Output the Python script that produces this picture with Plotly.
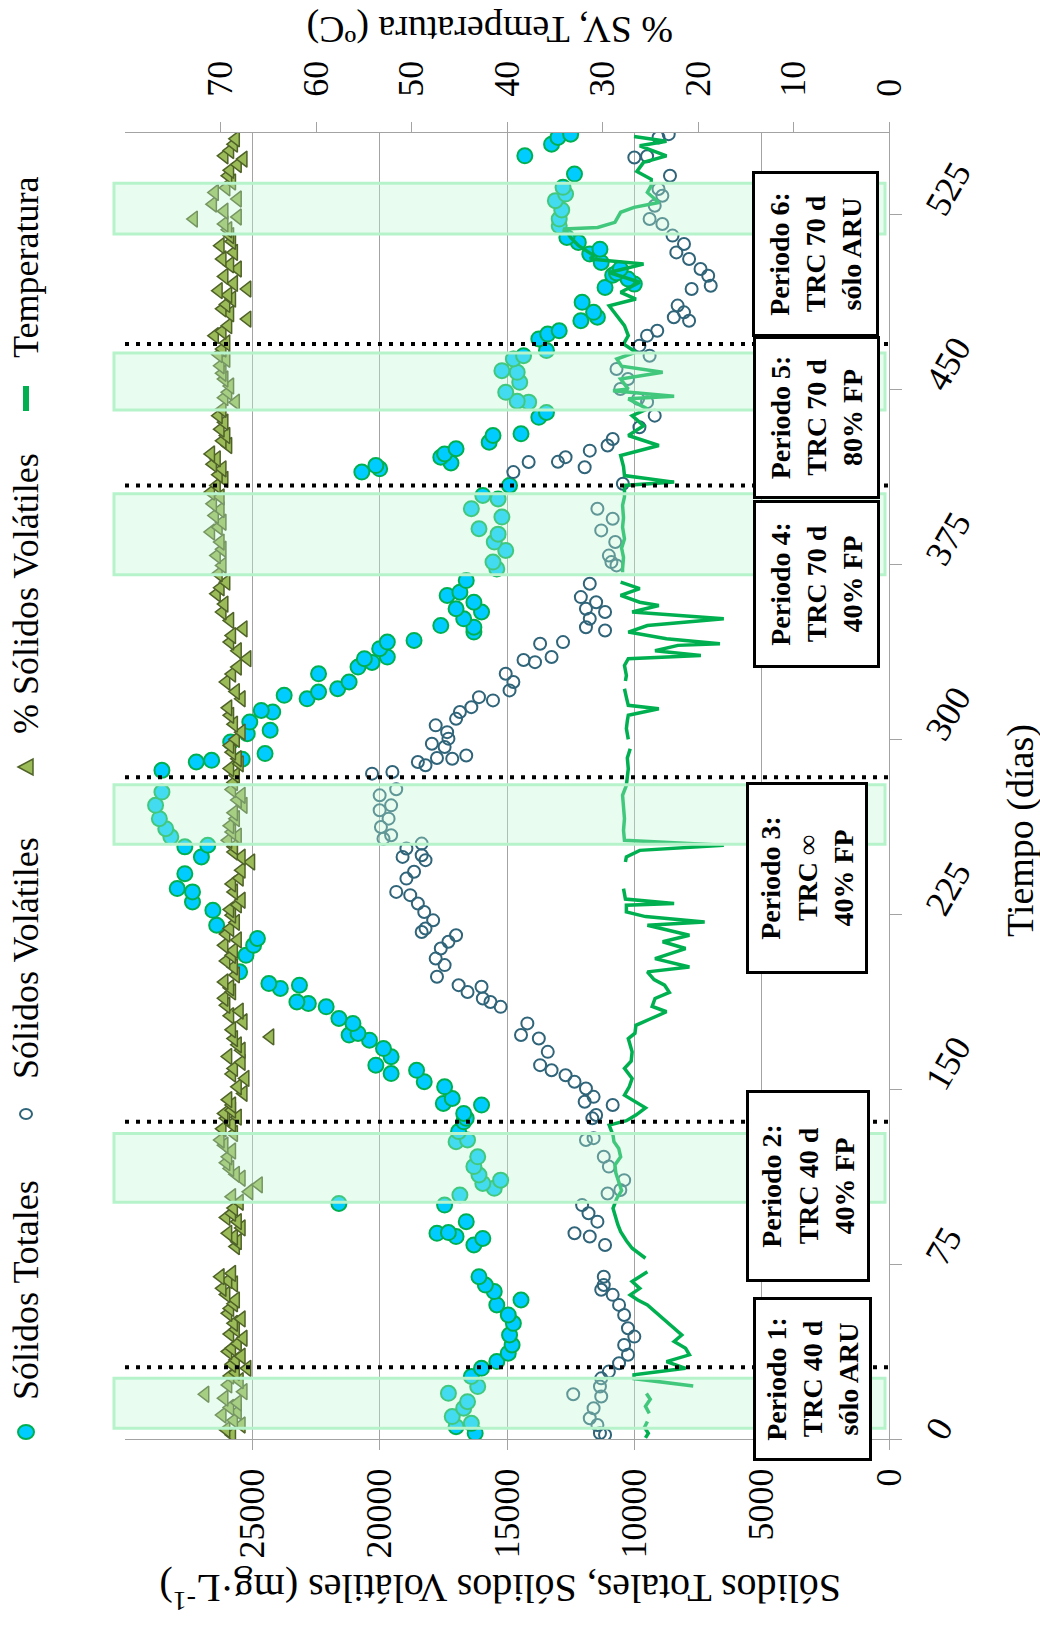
import plotly.graph_objects as go

# ---------------- data ----------------
# Sólidos Totales (mg/L) vs time (days)
st_t = [2.5, 5.3, 6.7, 9.6, 13.2, 16, 19.6, 22.5, 26.8, 30.3, 33.2, 36.8, 40.3, 44.6, 49.6, 53.2, 57.5, 59.6,
        63.2, 66, 69.6, 83.2, 86, 86.8, 88.2, 88.5, 93.2, 100.3, 101, 104.6, 107.5, 109.6, 111, 113.2, 116.8,
        121, 127.5, 128.2, 131.8, 136, 137.5,
        139.6, 143.2, 143.9, 146, 151, 153.2, 156.7, 158.1, 160.3, 163.9, 167.4, 171, 173.2, 173.9, 178.2,
        180.3, 185.3, 186.7, 187.4, 193.2, 194.6, 195.3, 200.3, 207.4, 211.7, 214.6, 220.3, 226.7, 230.3,
        234.6, 236, 242.4, 249.6, 253.9, 254.6, 258.2, 261.7, 266, 271.7, 277.4,
        286.7, 290.3, 291, 291.5, 293.9, 298.9, 302.4, 303.9, 307.4, 311.7, 312.4, 317.4, 318.9, 320.3,
        321.7, 324.6, 328.1, 331, 333, 334.6, 335.3, 338.9, 341.7, 342.4, 346, 348.1, 348.8, 351.7, 354.6,
        356, 358.8, 361.7, 363.1, 368.1, 373.1, 376, 381, 384.6, 388, 390.3, 395.3, 398.9, 403.1, 404.6,
        408.9, 414.6, 416, 417.4, 418.5, 421,
        422.4, 424.6, 427.4, 430.3, 431, 438.1, 440.2, 444.6, 445, 448.8, 453.1, 457.4, 458.1, 463.1, 464.5,
        466.7, 471.7, 473.8, 475.2, 479.5, 481, 483.1, 487.4, 493.8, 495.2, 497.4, 499, 500, 501.7, 504.5,
        508.1, 510.2, 513.1, 515.2, 520.2, 523.1, 527, 531, 533.8, 536.7, 542.4, 550.2, 555.2, 558.1, 559.5]
st_v = [16250, 17000, 16400, 17150, 16700, 16550, 17300, 16150, 16400, 16000, 15400, 14950, 14800, 14900,
        14750, 14950, 15400, 14450, 15500, 15850, 16100, 16300, 15950, 17000, 17750, 17300, 16600, 17450,
        21600, 16850, 15500, 15950, 15250, 16100, 16300, 16150, 17000, 16550, 16900, 16700, 16600,
        16700, 16000, 17500, 17150, 17450, 18250, 19550, 18550, 20150, 19550, 19850, 20400, 21200, 20850,
        21050, 21600, 22100, 22800, 23250, 23900, 23150, 24350, 25500, 25250, 24950, 24800, 26400, 26550,
        27350, 27350, 27950, 27650, 27000, 27650, 26750, 28200, 28400, 28650, 28800, 28550,
        28550, 27200, 26600, 25400, 24500, 25850, 25200, 24300, 25100, 24200, 24650, 22850, 23750, 22400,
        21650, 21200, 22400, 20850, 20300, 20600, 19700, 20000, 19700, 18650, 16300, 16300, 17600, 16700,
        16000, 17000, 16300, 17350, 16850, 16600, 15400, 15550, 15050, 15500, 15350, 16100, 15200, 16400,
        15350, 15950, 14900, 20700, 20000, 20150, 17200, 17600,
        17450, 17000, 15700, 15550, 14450, 13750, 13450, 14150, 14600, 15050, 14500, 14600, 15200, 14750,
        14350, 13450, 13750, 13400, 12950, 12100, 11450, 11600, 12050, 11150, 10000, 10250, 10850, 10700,
        10550, 11300, 11750, 11350, 12200, 12650, 12950, 12950, 12850, 13100, 12700, 12800, 12350, 14300,
        13250, 13000, 12500]

# Sólidos Volátiles (mg/L)
sv_t = [1.8, 2.5, 6, 8.9, 13.2, 18.2, 19.2, 22.5, 26, 28.9, 32.5, 36.1, 40.3, 43.9, 47.5, 53.2, 57.5, 61.8,
        64, 66, 69.6, 83.2, 86.8, 88.2, 93.2, 96.8, 100.3, 105.3, 106.8, 111, 116.8, 121, 128.2, 129, 137.5,
        138.9, 143.2, 144.6, 146.7, 150.3, 153.2, 156, 158.1, 160.3, 166, 171.7, 173.2, 178.2, 185.3, 187.4,
        188.9, 191.7, 193.9, 194.6, 198.2, 203.2, 206, 210.3, 213.2, 216, 217.4, 218.9, 222.4, 226, 229.6,
        233.2, 234.6, 240.3, 243.2, 248.2, 249.6, 250.3, 253.2, 255.3, 257.4, 258.9, 262.4, 266, 269.6,
        271.7, 276, 278.6,
        285.3, 286, 288.9, 290.3, 291.7, 292, 293.1, 296.7, 298.1, 300.3, 303.1, 306, 308.8, 311.7, 313.8,
        316.7, 318.1, 321, 324.6, 328.1, 333.1, 334, 335.3, 341, 341.7, 346.7, 348.1, 351.7, 354.6, 356,
        358.8, 361, 366.7, 374.6, 376, 378.8, 384.6, 389.6, 394.6, 398.9, 409.6, 414.6, 416.7, 418.9, 419,
        421,
        423.8, 426, 428.8, 433.8, 438.8, 444.6, 446, 450.2, 454.5, 458.8, 464.5, 468.8, 473.1, 475.2, 479.5,
        481, 483.1, 486, 493.1, 494.5, 498.8, 501.7, 506, 508.8, 512.4, 516, 521, 523.1, 528.8, 533.1, 536,
        541.7, 549.5, 550, 558.1, 559.5]
sv_v = [11150, 11350, 11450, 11750, 11600, 11300, 12400, 11350, 11300, 11000, 10600, 10250, 10400, 10000,
        10250, 10400, 10600, 10850, 11300, 11200, 11200, 11150, 11750, 12350, 11450, 11800, 12050, 11050,
        10550, 10400, 11000, 11200, 11900, 11600, 11650,
        11500, 10850, 11950, 11600, 11900, 12350, 12700, 13250, 13700, 13400, 13750, 14450, 14200, 15250,
        15650, 15950, 16550, 16000, 16900, 17750, 17450, 17800, 17600, 17300, 17000, 18350, 18200, 17900,
        18250, 18500, 18800, 19350, 18950, 18650, 18200, 19100, 18350, 18950, 18350, 19850, 19550, 19950,
        19650, 20000, 19550, 20000, 19350,
        20300, 19500, 18200, 18500, 17150, 17750, 16600, 17450, 17950, 17300, 17350, 17800, 17000, 16850,
        16400, 15550, 16100, 14900, 14750, 15050, 13900, 14350, 13250, 13700, 12800, 11150, 11900, 11750,
        11150, 11900, 11500, 12100, 11750, 10700, 10900, 11000, 10750, 11300, 10850, 11450, 10450, 14750,
        11950, 14150, 13000, 12700,
        11750, 11050, 10850, 9800, 9200, 9500, 9850, 10550, 10250, 10700, 9400, 9800, 9500, 9100, 7850,
        8450, 8050, 8300, 7750, 7000, 7100, 7400, 7850, 8350, 8050, 8500, 8900, 9400, 9200, 8900, 9050,
        8600, 10000, 9500, 9050, 8650]

# % Sólidos Volátiles
psv_t = [1.8, 4, 6, 8, 10.3, 11.7, 13.5, 15.5, 17.5, 19.2, 20.3, 23.2, 25, 27, 28.5, 30.3, 32, 33.9, 35.5,
         37.5, 38.9, 41, 43.2, 45, 47, 49.6, 51.5, 53.9, 56, 58, 59.6, 62, 64.6, 66.5, 68, 69.6, 71,
         82.5, 84.6, 86.5, 88.2, 90.5, 93.2, 95, 96.8, 99, 101.5, 103.9, 106, 109, 111.8, 113.5, 116,
         118.5, 121, 123.5, 126, 128.2, 131, 133, 135, 137.5, 138,
         139.6, 141, 143.2, 145.5, 148.2, 151, 154.6, 156.5, 158.9, 161.5, 164, 166.7, 169, 171.7, 172.4,
         175.5, 178.9, 181.5, 183.5, 186, 189, 191.7, 193.5, 196, 199, 202.4, 205, 207.4, 209.5, 211.7,
         214, 216.5, 218.9, 221.5, 224.6, 227, 229, 231, 234.6, 238, 240.5, 243.9, 247.4, 249.5, 251.7,
         254, 256.7, 258.5, 260.3, 263, 266, 268.5, 271.7, 274, 276, 278.5,
         281.5, 284.6, 287.5, 289.5, 291.7, 294.5, 297.4, 300, 303.1, 306.5, 310.3, 313.5, 317.4, 320.5,
         324.6, 328, 331, 334.6, 338, 341.7, 344.5, 347.4, 351, 354.6, 358, 362.4, 365, 367.4, 371, 374.6,
         378.8, 381.5, 384.6, 388.9, 391, 393.1, 396, 398.5, 401, 404, 406, 408.9, 411.5, 413.5, 416,
         418, 420.3,
         422.4, 426, 428, 430.3, 433, 436, 438.8, 441.5, 444.6, 446.5, 448.8, 451.5, 454.5, 457, 460.2,
         463, 465, 467.4, 470, 473.1, 475, 477.4, 480.2, 482.5, 484.6, 486.5, 488.8, 490.5, 492.4, 493.1,
         495.5, 498.5, 501.7, 503.5, 506, 508.8, 511.7, 513.5, 516, 518.5, 521, 523.1, 524, 526.5, 529.5,
         531.7, 534.5, 536.5, 539, 541.7, 544, 546.5, 548.8, 550.2, 552.5, 555.2, 557.5]
psv_v = [68.8, 69.4, 67.8, 68.6, 69.8, 68.2, 69.0, 68.2, 69.6, 71.6, 67.6, 69.2, 68.0, 69.0, 68.4, 67.2,
         68.8, 68.4, 67.8, 69.2, 68.8, 68.2, 67.6, 69.0, 68.4, 68.6, 67.8, 69.2, 69.0, 68.6, 68.4, 69.4,
         69.8, 68.6, 69.2, 70.0, 68.8,
         68.4, 68.2, 68.6, 69.2, 67.8, 68.2, 69.4, 68.8, 68.6, 68.0, 68.8, 67.0, 66.0, 67.8, 68.4, 69.0,
         69.4, 69.2, 68.8, 69.6, 70.0, 68.6, 69.8, 68.8, 69.4, 68.2,
         69.6, 68.8, 68.8, 69.2, 67.6, 68.2, 67.4, 68.8, 68.6, 67.8, 69.2, 67.8, 68.2, 68.6, 64.8,
         68.8, 67.6, 69.0, 68.0, 69.4, 69.6, 68.8, 69.0, 69.6, 68.4, 68.6, 69.4, 68.8, 68.6, 69.6,
         68.2, 69.4, 69.0, 68.4, 68.8, 69.0, 68.2, 67.8, 68.6, 68.8, 68.0, 67.8, 66.8, 67.8, 68.6,
         68.6, 69.2, 68.2, 68.8, 69.0, 68.4, 68.6, 67.6, 68.2, 67.8, 68.8,
         68.6, 68.4, 69.0, 68.0, 68.2, 68.8, 69.0, 68.4, 67.8, 68.6, 69.0, 69.2, 67.8, 68.4,
         69.4, 68.8, 68.2, 67.2, 68.2, 69.0, 68.8, 67.6, 69.0, 69.8, 69.6, 70.4, 70.0, 69.4, 70.2, 69.8,
         70.4, 69.8, 70.0, 71.0, 70.2, 69.8, 70.6, 70.0, 70.8, 70.0, 71.0, 70.4, 69.6, 70.2, 69.8,
         70.8, 70.4,
         71.0, 69.2, 69.8, 69.4, 70.0, 69.6, 70.2, 69.8, 68.4, 69.6, 69.2, 69.0, 69.6, 69.8, 70.0,
         69.4, 70.2, 69.8, 69.4, 70.6, 69.8, 69.2, 67.2, 69.0, 69.8, 69.4, 68.8, 69.2, 70.2, 67.2,
         68.6, 69.6, 68.2, 69.0, 69.8, 68.6, 70.0, 68.8, 69.0, 69.2, 69.6, 72.8, 68.2, 69.6, 70.8,
         68.2, 70.6, 69.4, 68.8, 69.2, 69.0, 68.2, 67.6, 69.6, 69.0, 68.6, 68.4]

# Temperatura (ºC); None marks gaps in the record
temp_t = [0.5, 2.5, 5, 7.5, None,
          11, 14, 17, 19.5, None,
          22.7, 24.2, 25.9, 27.5, 30.3, 33.2, 36.1, 38.9, 41.8, 44.6, 48.9, 53.2, 57.5, 59.6, 61.8, 64.6,
          67.5, 71.7, None,
          77.5, 81.8, 85, 88.9, 92, 96, 98.9, 103.2, 106.5, 110.3, 114, 117.5, 121, 124.6, 127.5, 130.3,
          134.6, 136.5, 138.9, 142, 144.5, 147.4, 151, 154.6, 158.9, 162, 166, 171.7, 174, 177.4, 180.3,
          183.2, 185.5, 188.9, 191.5, 194.6, 197, 200.3, 202.4, 206, 210.3, 213.2, 216, 220.3, 221.7, 224,
          226, 228.9, 229.6, 231.5, 236, None,
          247.4, 249.6, 252.4, 254.6, 256.7, 261, 266, 271, 276, 280.3, 284, 287.4, 292, 296, None,
          300, 304.6, 308, 310.3, 313.1, 314.6, 318, 321.7, None,
          325, 327.4, 331.7, 334.6, 336, 338, 340.3, 341, 343.1, 346, 348.8, 351.7, 354.6, 357.4, 358.8,
          361.7, 364.6, 367.4, None,
          371.7, 373.1, 378, 382, 386, 391, 395, 400.3, 404, 408.9, 410.3, 413.1, 417, 421.7, 426, 430.3,
          434.5, 438.8, 441.7, 446, 447.1, 449.5, 450.2, 454.5, 457.4, 460, 463.1, 466, 469.5, 473.1, 477.4,
          481.7, 485.9, 488.8, 491.7, 496, 500.2, 503.8, 506, 507.4, 511.7, 515, 517.4, 518.8, 519.5, 521.7,
          526, 528.1, 530.2, 534.5, 537.4, 540.2, 543.5, 547.4, 550.2, 554.5, 556.5, 558.5]
temp_v = [25.5, 25.2, 25.6, 25.3, None,
          25.1, 25.5, 25.0, 25.4, None,
          20.5, 23.5, 26.7, 26.7, 21.3, 23.3, 20.9, 21.3, 22.5, 21.7, 22.9, 24.1, 25.3, 26.3, 27.1, 26.1,
          26.9, 25.3, None,
          25.5, 26.9, 27.5, 28.1, 28.4, 28.7, 28.9, 28.5, 28.0, 28.3, 28.6, 28.7, 28.1, 28.3, 28.8, 28.9,
          29.3, 27.5, 26.5, 25.5, 26.6, 27.7, 27.2, 26.9, 27.7, 27.0, 26.9, 27.3, 26.6, 26.5, 24.9,
          23.3, 24.8, 24.5, 23.0, 23.5, 24.6, 25.3, 20.9, 24.5, 21.3, 23.7, 20.9, 25.3, 19.3, 25.5,
          27.5, 27.5, 22.5, 27.6, 27.8, None,
          27.6, 27.5, 26.1, 17.3, 27.7, 27.8, 27.7, 27.8, 27.9, 27.5, 27.4, 27.3, 27.4, 27.1, None,
          27.3, 27.5, 27.4, 27.3, 24.1, 27.3, 27.5, 27.7, None,
          27.6, 27.5, 27.7, 27.3, 19.7, 24.5, 22.1, 17.7, 23.3, 27.3, 25.3, 17.3, 26.9, 24.1, 26.1,
          28.1, 26.1, 28.1, None,
          27.9, 27.9, 27.8, 28.0, 27.7, 27.9, 27.8, 27.9, 27.7, 27.7, 22.5, 27.7, 27.8, 28.1, 24.1, 27.3,
          25.7, 26.9, 25.3, 27.3, 22.5, 28.9, 27.3, 28.1, 23.7, 28.0, 28.5, 26.5, 27.8, 27.3, 27.7,
          28.5, 29.3, 26.5, 28.1, 26.1, 29.3, 25.7, 31.3, 30.9, 32.5, 33.3, 33.7, 34.1, 30.5, 28.7,
          28.1, 26.7, 24.1, 25.3, 24.9, 24.9, 26.4, 25.7, 23.3, 26.1, 23.3, 26.7]

# period boundaries and the windows highlighted in each period (days)
period_bounds = [30.8, 136.0, 283.8, 408.9, 469.5]
window_start = [4.6, 101.5, 255.0, 370.6, 441.2, 516.7]
window_end = [26.0, 131.0, 280.5, 405.3, 465.7, 538.5]
period_text = ["Periodo 1:<br>TRC 40 d<br>sólo ARU",
               "Periodo 2:<br>TRC 40 d<br>40% FP",
               "Periodo 3:<br>TRC ∞<br>40% FP",
               "Periodo 4:<br>TRC 70 d<br>40% FP",
               "Periodo 5:<br>TRC 70 d<br>80% FP",
               "Periodo 6:<br>TRC 70 d<br>sólo ARU"]

solids_ticks = [0, 5000, 10000, 15000, 20000, 25000]
pct_ticks = [0, 10, 20, 30, 40, 50, 60, 70]
time_ticks = [0, 75, 150, 225, 300, 375, 450, 525]

# ---------------- layout geometry ----------------
W, H = 1040, 1625
ML, MR, MT, MB = 125, 151, 133, 186
PW = W - ML - MR
PH = H - MT - MB
SERIF = "Liberation Serif, Times New Roman, serif"
GRID = "#a3a3a3"


def px(xpix):
    return (xpix - ML) / PW


def py(ypix):
    return (H - MB - ypix) / PH


fig = go.Figure()

fig.add_trace(go.Scatter(
    x=st_v, y=st_t, mode="markers", name="Sólidos Totales",
    marker=dict(symbol="circle", size=15, color="#00ccff", line=dict(color="#00b050", width=2)),
    xaxis="x", yaxis="y", showlegend=False))

fig.add_trace(go.Scatter(
    x=sv_v, y=sv_t, mode="markers", name="Sólidos Volátiles",
    marker=dict(symbol="circle", size=12, color="rgba(0,0,0,0)", line=dict(color="#2f6479", width=2)),
    xaxis="x", yaxis="y", showlegend=False))

fig.add_trace(go.Scatter(
    x=psv_v, y=psv_t, mode="markers", name="% Sólidos Volátiles",
    marker=dict(symbol="triangle-left", size=14, color="#9bbb59", line=dict(color="#4f6228", width=1.5)),
    xaxis="x2", yaxis="y", showlegend=False))

fig.add_trace(go.Scatter(
    x=temp_v, y=temp_t, mode="lines", name="Temperatura",
    line=dict(color="#00b050", width=3.5), connectgaps=False,
    xaxis="x2", yaxis="y", showlegend=False))

shapes = []
# highlighted windows
for t0, t1 in zip(window_start, window_end):
    shapes.append(dict(type="rect", xref="paper", yref="y", x0=px(114), x1=px(885), y0=t0, y1=t1,
                       fillcolor="rgba(190,245,210,0.35)", line=dict(color="#b6f3cb", width=3),
                       layer="above"))
# period separators
for tb in period_bounds:
    shapes.append(dict(type="line", xref="paper", yref="y", x0=0, x1=1, y0=tb, y1=tb,
                       line=dict(color="black", width=4, dash="4px,7px"), layer="above"))

# legend symbols
LX = 26
shapes.append(dict(type="circle", xref="paper", yref="paper",
                   x0=px(LX - 8), x1=px(LX + 8), y0=py(1432 + 7), y1=py(1432 - 7),
                   fillcolor="#00ccff", line=dict(color="#00b050", width=2)))
shapes.append(dict(type="circle", xref="paper", yref="paper",
                   x0=px(LX - 6), x1=px(LX + 6), y0=py(1114 + 5), y1=py(1114 - 5),
                   fillcolor="rgba(0,0,0,0)", line=dict(color="#2f6479", width=2)))
tri = "M {:.5f},{:.5f} L {:.5f},{:.5f} L {:.5f},{:.5f} Z".format(
    px(LX - 8), py(767), px(LX + 7), py(759), px(LX + 7), py(775))
shapes.append(dict(type="path", xref="paper", yref="paper", path=tri,
                   fillcolor="#9bbb59", line=dict(color="#4f6228", width=1.5)))
shapes.append(dict(type="line", xref="paper", yref="paper",
                   x0=px(LX), x1=px(LX), y0=py(386), y1=py(411),
                   line=dict(color="#00b050", width=6)))

annotations = []
legend_items = [("Sólidos Totales", 1290), ("Sólidos Volátiles", 958),
                ("% Sólidos Volátiles", 593), ("Temperatura", 267)]
for txt, cy in legend_items:
    annotations.append(dict(text=txt, xref="paper", yref="paper", x=px(LX), y=py(cy),
                            xanchor="center", yanchor="middle", textangle=-90, showarrow=False,
                            font=dict(family=SERIF, size=36, color="black")))

# period boxes (centre x, centre y, horizontal extent, vertical extent) in pixels
box_geom = [(812, 1379, 119, 164), (808, 1186, 124, 192), (807, 878, 122, 192),
            (816, 584, 127, 168), (816, 418, 127, 163), (816, 254, 127, 166)]
for txt, (cx, cy, bw, bh) in zip(period_text, box_geom):
    annotations.append(dict(text="<b>" + txt + "</b>", xref="paper", yref="paper",
                            x=px(cx), y=py(cy), xanchor="center", yanchor="middle",
                            textangle=-90, showarrow=False, align="center",
                            width=bh - 10, height=bw - 10,
                            bgcolor="white", bordercolor="black", borderwidth=3, borderpad=2,
                            font=dict(family=SERIF, size=28, color="black")))

# axis titles
annotations.append(dict(text="Sólidos Totales, Sólidos Volátiles (mg·L<sup>-1</sup>)",
                        xref="paper", yref="paper", x=px(500), y=py(1592),
                        xanchor="center", yanchor="middle", textangle=180, showarrow=False,
                        font=dict(family=SERIF, size=40, color="black")))
annotations.append(dict(text="% SV, Temperatura (ºC)",
                        xref="paper", yref="paper", x=px(490), y=py(30),
                        xanchor="center", yanchor="middle", textangle=180, showarrow=False,
                        font=dict(family=SERIF, size=38, color="black")))
annotations.append(dict(text="Tiempo (días)",
                        xref="paper", yref="paper", x=px(1020), y=py(831),
                        xanchor="center", yanchor="middle", textangle=-90, showarrow=False,
                        font=dict(family=SERIF, size=38, color="black")))

tickfont = dict(family=SERIF, size=36, color="black")

fig.update_layout(
    width=W, height=H,
    margin=dict(l=ML, r=MR, t=MT, b=MB, pad=0),
    paper_bgcolor="white", plot_bgcolor="white",
    showlegend=False,
    shapes=shapes, annotations=annotations,
    xaxis=dict(range=[30000, 0], tickvals=solids_ticks, ticktext=[str(v) for v in solids_ticks],
               tickangle=-90, ticks="outside", ticklen=10, tickcolor=GRID, tickwidth=1.3,
               ticklabelstandoff=4,
               showline=True, linecolor=GRID, linewidth=1.3, mirror=False,
               showgrid=True, gridcolor=GRID, gridwidth=1.3, zeroline=False,
               tickfont=tickfont, side="bottom", anchor="y"),
    xaxis2=dict(range=[80, 0], tickvals=pct_ticks, tickangle=-90, ticks="outside", ticklen=10,
                tickcolor=GRID, tickwidth=1.3, ticklabelstandoff=18,
                showline=True, linecolor=GRID, linewidth=1.3,
                showgrid=False, zeroline=False, tickfont=tickfont,
                side="top", overlaying="x", anchor="y"),
    yaxis=dict(range=[0, 560], tickvals=time_ticks, tickangle=-60, ticks="outside", ticklen=12,
               tickcolor=GRID, tickwidth=1.3, ticklabelstandoff=20,
               showline=True, linecolor=GRID, linewidth=1.3,
               showgrid=False, zeroline=False, tickfont=tickfont, side="right", anchor="x"),
)

fig.write_html("out.html")
